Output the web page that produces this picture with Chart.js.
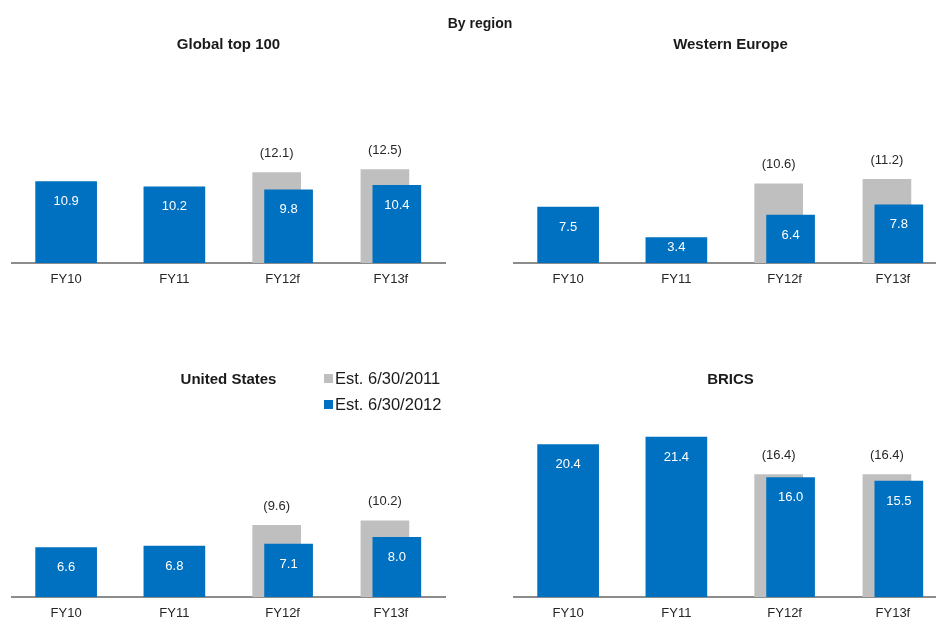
<!DOCTYPE html>
<html>
<head>
<meta charset="utf-8">
<script src="https://cdn.jsdelivr.net/npm/chart.js@4.4.1/dist/chart.umd.min.js"></script>
<style>
  html, body { margin: 0; padding: 0; background: #fff; overflow: hidden; }
  #page { position: relative; width: 936px; height: 619px; overflow: hidden; font-family: "Liberation Sans", Arial, sans-serif; }
  #page canvas { position: absolute; }
  #mainTitle { position: absolute; left: 0; width: 960px; top: 15px; text-align: center; font-weight: bold; font-size: 14px; line-height: 16px; color: #1a1a1a; z-index: 2; }
  #legend { position: absolute; left: 324px; top: 365px; z-index: 2; }
  .leg-item { display: flex; align-items: center; height: 26px; font-size: 16.5px; color: #1a1a1a; }
  .leg-box { width: 9px; height: 9px; margin-right: 2px; }
</style>
</head>
<body>
<div id="page">
  <div id="mainTitle">By region</div>
  <canvas id="cGlobal" width="468" height="300" style="left:0;top:0"></canvas>
  <canvas id="cWest" width="468" height="300" style="left:502px;top:0"></canvas>
  <canvas id="cUS" width="468" height="340" style="left:0;top:300px"></canvas>
  <canvas id="cBrics" width="468" height="340" style="left:502px;top:300px"></canvas>
  <div id="legend"></div>
</div>
<script>
const categories = ["FY10", "FY11", "FY12f", "FY13f"];
const panelTitles = ["Global top 100", "Western Europe", "United States", "BRICS"];
const seriesNames = ["Est. 6/30/2011", "Est. 6/30/2012"];

// old estimate only exists for the forecast years
const globalEst2011 = [null, null, 12.1, 12.5];
const globalEst2012 = [10.9, 10.2, 9.8, 10.4];
const westEst2011 = [null, null, 10.6, 11.2];
const westEst2012 = [7.5, 3.4, 6.4, 7.8];
const usEst2011 = [null, null, 9.6, 10.2];
const usEst2012 = [6.6, 6.8, 7.1, 8.0];
const bricsEst2011 = [null, null, 16.4, 16.4];
const bricsEst2012 = [20.4, 21.4, 16.0, 15.5];

const colorEst2011 = "#bfbfbf";
const colorEst2012 = "#0070c0";
const fontFamily = "'Liberation Sans', Arial, sans-serif";
const pairShift = 0.055; // how far grey/blue bars sit off the category centre

Chart.defaults.font.family = fontFamily;

const valueLabels = {
  id: "valueLabels",
  afterDatasetsDraw(chart) {
    const ctx = chart.ctx;
    ctx.save();
    ctx.font = "13px " + fontFamily;
    ctx.textAlign = "center";
    ctx.textBaseline = "middle";
    chart.data.datasets.forEach((ds, di) => {
      const meta = chart.getDatasetMeta(di);
      meta.data.forEach((bar, i) => {
        const v = meta.controller.getParsed(i).y;
        if (v == null || isNaN(v)) return;
        if (ds.valuePos === "above") {
          ctx.fillStyle = "#262626";
          ctx.fillText("(" + v.toFixed(1) + ")", bar.x, bar.y - 19);
        } else {
          // short bars: keep the label inside the bar
          const y = Math.min(bar.y + 20, (bar.y + bar.base) / 2 - 3);
          ctx.fillStyle = "#ffffff";
          ctx.fillText(v.toFixed(1), bar.x, y);
        }
      });
    });
    ctx.restore();
  }
};

function toPoints(values) {
  return values.map((v, i) => ({ x: i, y: v }));
}

function buildPanel(canvasId, title, est2011, est2012, pad) {
  const actual = est2012.map((v, i) => (est2011[i] == null ? v : null));
  const forecast = est2012.map((v, i) => (est2011[i] == null ? null : v));

  return new Chart(document.getElementById(canvasId), {
    type: "bar",
    data: {
      labels: categories,
      datasets: [
        {
          label: seriesNames[1],
          data: toPoints(forecast),
          xAxisID: "xRight",
          backgroundColor: colorEst2012,
          barThickness: 48,
          grouped: false,
          order: 0,
          valuePos: "inside",
        },
        {
          label: seriesNames[0],
          data: toPoints(est2011),
          xAxisID: "xLeft",
          backgroundColor: colorEst2011,
          barThickness: 48,
          grouped: false,
          order: 1,
          valuePos: "above",
        },
        {
          label: seriesNames[1],
          data: actual,
          xAxisID: "x",
          backgroundColor: colorEst2012,
          barThickness: 61,
          grouped: false,
          order: 2,
          valuePos: "inside",
        },
      ],
    },
    options: {
      responsive: false,
      animation: false,
      devicePixelRatio: 1,
      layout: { padding: { left: 12, right: 23, top: pad.top, bottom: pad.bottom } },
      plugins: {
        legend: { display: false },
        tooltip: { enabled: false },
        title: {
          display: true,
          text: title,
          color: "#1a1a1a",
          font: { size: 15, weight: "bold" },
          padding: { top: 0, bottom: pad.titleGap },
        },
      },
      scales: {
        x: {
          type: "category",
          offset: true,
          grid: { display: false, drawTicks: false },
          border: { display: true, color: "#8c8c8c", width: 2 },
          ticks: { color: "#262626", font: { size: 13 }, padding: 9 },
        },
        xLeft: {
          type: "linear",
          display: false,
          offset: false,
          min: -0.5 + pairShift,
          max: categories.length - 0.5 + pairShift,
        },
        xRight: {
          type: "linear",
          display: false,
          offset: false,
          min: -0.5 - pairShift,
          max: categories.length - 0.5 - pairShift,
        },
        y: { display: false, min: 0, max: 24 },
      },
    },
    plugins: [valueLabels],
  });
}

const topPad = { top: 36, bottom: 3.4, titleGap: 29.7 };
const bottomPad = { top: 70.5, bottom: 9.4, titleGap: 29.2 };

buildPanel("cGlobal", panelTitles[0], globalEst2011, globalEst2012, topPad);
buildPanel("cWest", panelTitles[1], westEst2011, westEst2012, topPad);
buildPanel("cUS", panelTitles[2], usEst2011, usEst2012, bottomPad);
buildPanel("cBrics", panelTitles[3], bricsEst2011, bricsEst2012, bottomPad);

document.getElementById("legend").innerHTML = [
  [seriesNames[0], colorEst2011],
  [seriesNames[1], colorEst2012],
].map(([name, color]) => `
  <div class="leg-item"><span class="leg-box" style="background:${color}"></span>${name}</div>
`).join("");
</script>
</body>
</html>
